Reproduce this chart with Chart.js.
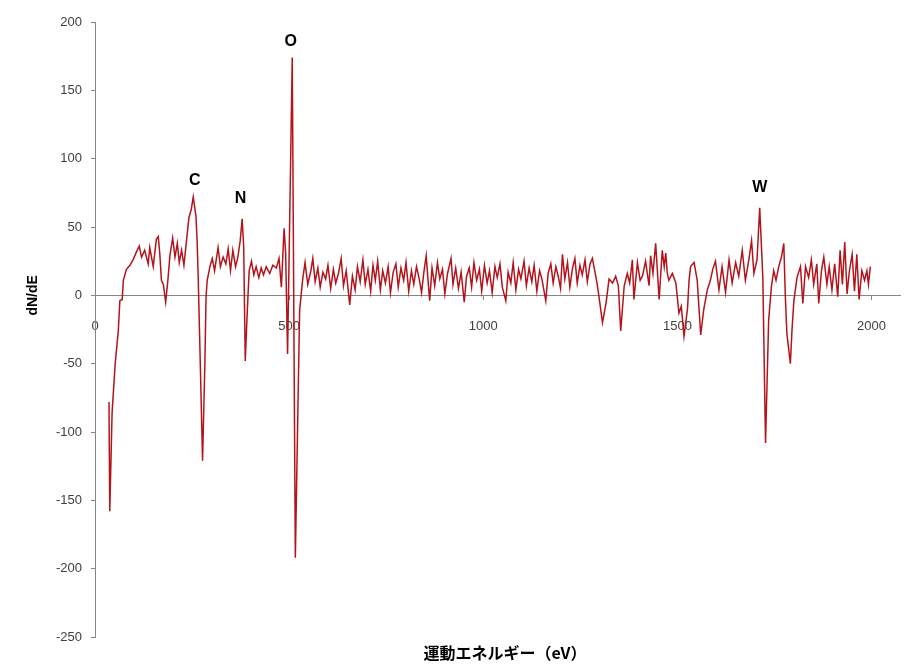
<!DOCTYPE html>
<html>
<head>
<meta charset="utf-8">
<script src="https://cdn.jsdelivr.net/npm/chart.js@4/dist/chart.umd.min.js"></script>
<style>
  html, body { margin: 0; padding: 0; background: #fff; }
  #wrap { width: 905px; height: 665px; position: relative; }
</style>
</head>
<body>
<div id="wrap"><canvas id="auger" width="905" height="665"></canvas></div>
<script>
// kinetic energy (eV) and dN/dE
const energy = [
  36, 38, 44, 52, 60, 64, 70, 73, 81, 90, 98, 107, 114, 120, 128, 137, 141, 150, 158, 163,
  167, 171, 176, 182, 188, 193, 200, 206, 212, 217, 223, 229, 236, 242, 248, 253, 260, 263, 266, 272,
  277, 283, 286,
  289, 296, 302, 308, 317, 323, 330, 337, 343, 349, 355, 362, 368, 374, 379, 383, 387, 392, 397, 403,
  409, 415, 422, 428, 434, 441, 450, 458, 467, 474, 480, 487, 491, 496, 508, 516, 527,
  535, 541, 548, 556, 561, 567, 574, 580, 587, 594, 600, 607, 614, 620, 627, 634, 640, 647, 656, 663,
  670, 676, 683, 690, 696, 703, 710, 716, 722, 728, 735, 741, 748, 755, 761, 768, 775, 781, 788, 795,
  801, 808, 815, 821, 828, 835, 841, 847, 853, 858, 862, 868, 875, 882, 888, 895, 901, 908, 917, 922,
  929, 936, 943, 951, 957, 964, 970, 976, 983, 990, 996, 1003, 1010, 1016, 1023, 1030, 1036, 1043, 1049, 1058,
  1064, 1071, 1077, 1084, 1091, 1097, 1105, 1111, 1118, 1125, 1131, 1138, 1145, 1151, 1161, 1167, 1174, 1180, 1187, 1193,
  1199, 1204, 1210, 1217, 1223, 1230, 1236, 1242, 1249, 1255, 1262, 1268, 1275, 1281, 1287,
  1293, 1298, 1307, 1316, 1324, 1333, 1341, 1348, 1354, 1363, 1371, 1377, 1384, 1388, 1397, 1404, 1410, 1418, 1427, 1431, 1437,
  1444, 1453, 1461, 1466, 1470, 1474, 1478, 1487, 1496, 1504, 1510, 1517, 1526, 1530, 1534, 1543, 1551, 1560, 1568, 1577,
  1585, 1591, 1598, 1607, 1615, 1624, 1633, 1641, 1650, 1658, 1667, 1675, 1684, 1691, 1697, 1705, 1712,
  1720, 1727, 1735, 1742, 1748, 1754, 1761, 1768, 1774, 1778, 1782, 1791, 1795, 1800, 1808, 1817, 1823, 1830, 1838, 1845,
  1851, 1859, 1864, 1871, 1877, 1885, 1891, 1898, 1905, 1913, 1919, 1925, 1931, 1937, 1943, 1950, 1956, 1962, 1968, 1975,
  1982, 1988, 1992, 1997
];
const dNdE = [
  -78, -158, -86, -50, -26, -4, -3, 11, 19, 22, 26, 32, 36, 28, 33, 23, 35, 21, 41, 43,
  30, 11, 8, -5, 12, 29, 42, 28, 38, 24, 33, 22, 41, 57, 63, 72, 58, 40, 11, -60,
  -121, -50, -1,
  11, 21, 27, 18, 35, 21, 28, 23, 34, 18, 33, 21, 28, 40, 56, 35, -48, -13, 18, 25,
  15, 21, 13, 20, 15, 21, 16, 22, 20, 27, 6, 49, 31, -43, 174, -192, -11,
  12, 24, 8, 18, 27, 10, 20, 6, 17, 12, 22, 5, 19, 9, 16, 27, 7, 18, -7, 14,
  4, 21, 10, 26, 8, 19, 3, 22, 11, 25, 4, 18, 9, 21, 2, 17, 23, 6, 20, 11,
  24, 3, 18, 8, 21, 12, 2, 17, 29, 10, -4, 20, 7, 24, 12, 19, 1, 16, 27, 8,
  20, 5, 17, -5, 14, 20, 6, 24, 11, 19, 3, 22, 9, 18, 2, 21, 13, 23, 6, -4,
  17, 9, 24, 4, 19, 12, 25, 7, 20, 10, 22, 3, 18, 12, -4, 16, 23, 9, 21, 14,
  5, 30, 12, 24, 6, 20, 27, 9, 22, 15, 26, 10, 23, 27, 18,
  9, -1, -20, -6, 12, 9, 14, 7, -26, 7, 16, 9, 26, -3, 24, 11, 14, 25, 7, 29, 16,
  38, -3, 33, 21, 31, 16, 11, 16, 9, -13, -8, -30, -10, 11, 21, 24, 11, -29, -10, 4,
  11, 19, 25, 4, 21, 2, 26, 9, 24, 14, 33, 11, 26, 40, 16, 26, 64,
  13, -108, -18, 6, 18, 11, 21, 28, 38, -1, -28, -50, -26, -4, 13, 21, -6, 21, 13, 26,
  8, 23, -6, 18, 28, 8, 21, 4, 23, -1, 33, 8, 39, 1, 18, 30, 3, 30, -3, 18,
  11, 18, 8, 21
];
const xTickValues = [0, 500, 1000, 1500, 2000];
const peakNames = ['C', 'N', 'O', 'W'];
const peakEnergy = [257, 375, 504, 1712];

// label anchors (data units) for the element names
const peakLabelLevel = [84, 71, 186, 79];

const axisGrey = '#868686';
const tickFont = { family: '"Liberation Sans", Arial, sans-serif', size: 13 };

const chartLabels = {
  id: 'chartLabels',
  afterDraw(chart) {
    const { ctx, scales: { x, y } } = chart;
    ctx.save();
    ctx.fillStyle = '#000';
    ctx.textAlign = 'center';
    ctx.textBaseline = 'middle';
    ctx.font = 'bold 16px "Liberation Sans", Arial, sans-serif';
    peakNames.forEach((name, i) => {
      ctx.fillText(name, x.getPixelForValue(peakEnergy[i]), y.getPixelForValue(peakLabelLevel[i]));
    });

    ctx.font = 'bold 14px "Liberation Sans", Arial, sans-serif';
    ctx.save();
    ctx.translate(33, y.getPixelForValue(0));
    ctx.rotate(-Math.PI / 2);
    ctx.fillText('dN/dE', 0, 0);
    ctx.restore();

    ctx.font = 'bold 16px "Noto Sans CJK JP", sans-serif';
    ctx.fillText('運動エネルギー（eV）', 505, 653);
    ctx.restore();
  }
};

new Chart(document.getElementById('auger'), {
  type: 'line',
  data: {
    datasets: [{
      data: energy.map((e, i) => ({ x: e, y: dNdE[i] })),
      borderColor: '#b3141c',
      borderWidth: 1.5,
      pointRadius: 0,
      tension: 0,
      fill: false
    }]
  },
  options: {
    responsive: false,
    animation: false,
    layout: { padding: { left: 0, top: 22, right: 0, bottom: 28 } },
    plugins: {
      legend: { display: false },
      tooltip: { enabled: false }
    },
    scales: {
      x: {
        type: 'linear',
        position: { y: 0 },
        min: 0,
        max: 2075,
        afterBuildTicks(scale) {
          scale.ticks = xTickValues.map(v => ({ value: v }));
        },
        grid: { drawOnChartArea: false, tickLength: 4, color: axisGrey },
        border: { color: axisGrey, width: 1 },
        ticks: {
          color: '#404040',
          font: tickFont,
          padding: 19,
          maxRotation: 0,
          callback: value => String(value)
        }
      },
      y: {
        min: -250,
        max: 200,
        afterFit(scale) { scale.width = 95; },
        grid: { drawOnChartArea: false, tickLength: 4, color: axisGrey },
        border: { color: axisGrey, width: 1 },
        ticks: { stepSize: 50, color: '#404040', font: tickFont, padding: 9 }
      }
    }
  },
  plugins: [chartLabels]
});
</script>
</body>
</html>
